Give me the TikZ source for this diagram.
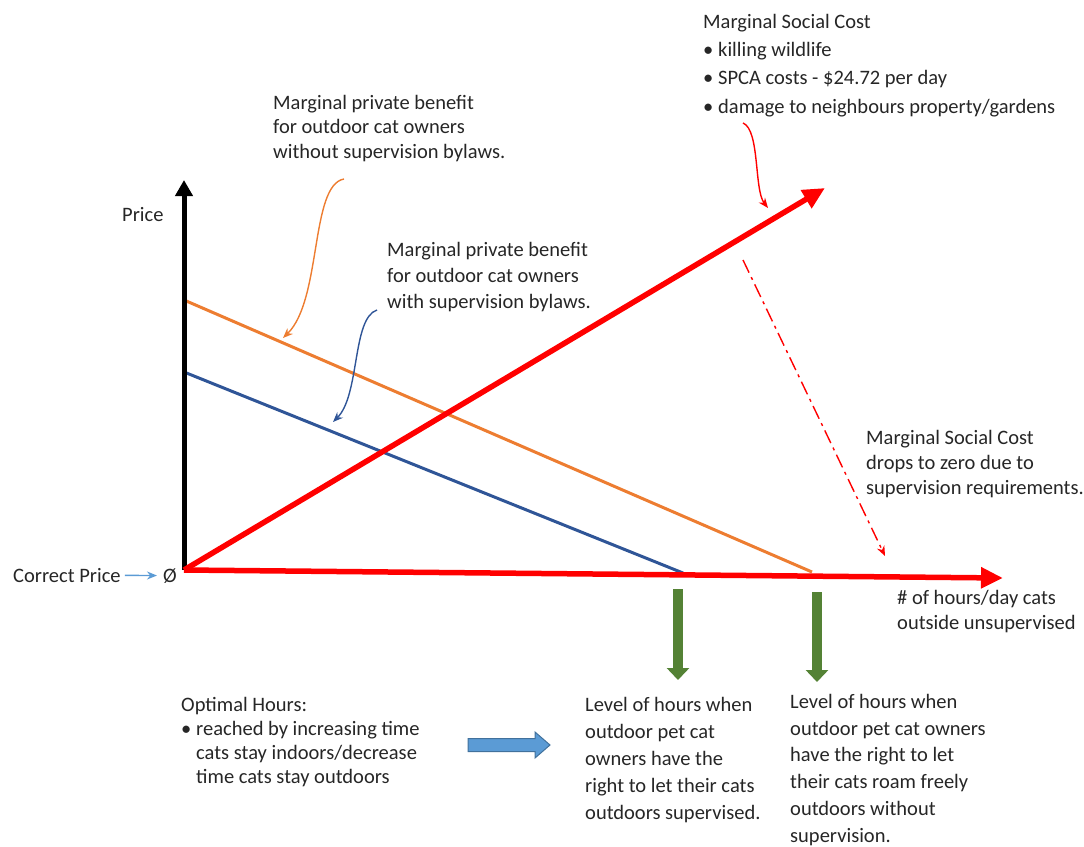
\documentclass[tikz,border=0pt]{standalone}
\usepackage{fontspec}
\setmainfont{Carlito}
\usetikzlibrary{arrows.meta}

\definecolor{mscRed}{RGB}{255,0,0}
\definecolor{mpbOrange}{RGB}{237,125,49}
\definecolor{mpbBlue}{RGB}{47,85,151}
\definecolor{lvlGreen}{RGB}{84,130,53}
\definecolor{hintBlue}{RGB}{91,155,213}
\definecolor{hintEdge}{RGB}{65,113,156}
\definecolor{txtGray}{RGB}{38,38,38}

% base west of a multi-line node = baseline of its last line
\tikzstyle{tS}=[inner sep=0pt, anchor=base west, align=left, text=txtGray, font=\fontsize{20.5}{26}\selectfont]
\tikzstyle{yaxS}=[line width=5pt, black, -{Triangle[length=16pt,width=17pt]}]
\tikzstyle{redS}=[line width=5.5pt, mscRed, -{Triangle[length=22pt,width=20pt]}]
\tikzstyle{orS}=[line width=3pt, mpbOrange]
\tikzstyle{blS}=[line width=3pt, mpbBlue]
\tikzstyle{thinArr}=[line width=1.4pt, -{Stealth[length=10pt,width=8pt]}]
\tikzstyle{grS}=[line width=10pt, lvlGreen, -{Triangle[length=12pt,width=22pt]}]

\begin{document}
\begin{tikzpicture}[x=1pt,y=-1pt]
                \useasboundingbox (0,0) rectangle (1084,846);
                % curve ends
                \coordinate (o) at (184,570);
                \coordinate (yTop) at (184,180);
                \coordinate (xEnd) at (1003,578);
                \coordinate (mscEnd) at (825,188);
                \coordinate (orA) at (184,300);
                \coordinate (orB) at (812,572);
                \coordinate (blA) at (184,372);
                \coordinate (blB) at (683,573);
                \draw[orS] (orA) -- (orB);
                \draw[blS] (blA) -- (blB);
                \draw[yaxS] (o) -- (yTop);
                \draw[redS] (o) -- (xEnd);
                \draw[redS] (o) -- (mscEnd);

                % labels
                \draw (122,221) node[tS] (price) {Price};
                \draw (13,582) node[tS] (cp) {Correct Price};
                \draw (163,582) node[tS] (zero) {Ø};
                \draw (897,629) node[tS, font=\fontsize{20.5}{25}\selectfont] (hrs) {\# of hours/day cats\\outside unsupervised};
                \draw (273,158) node[tS, font=\fontsize{20.5}{24.5}\selectfont] (mpbOut) {Marginal private benefit\\for outdoor cat owners\\without supervision bylaws.};
                \draw (387,308) node[tS] (mpbSup) {Marginal private benefit\\for outdoor cat owners\\with supervision bylaws.};
                \draw (703,113) node[tS, font=\fontsize{20.5}{28.3}\selectfont] (msc) {Marginal Social Cost\\
                    \makebox[15pt][l]{\textbullet}killing wildlife\\
                    \makebox[15pt][l]{\textbullet}SPCA costs - \$24.72 per day\\
                    \makebox[15pt][l]{\textbullet}damage to neighbours property/gardens};
                \draw (866,494) node[tS, font=\fontsize{20.5}{25}\selectfont] (mscZero) {Marginal Social Cost\\drops to zero due to\\supervision requirements.};
                \draw (181,783) node[tS, font=\fontsize{20.5}{24}\selectfont] (opt) {Optimal Hours:\\
                    \makebox[15pt][l]{\textbullet}reached by increasing time\\
                    \hspace*{15pt}cats stay indoors/decrease\\
                    \hspace*{15pt}time cats stay outdoors};
                \draw (585,819) node[tS, font=\fontsize{20.5}{27}\selectfont] (lvlSup) {Level of hours when\\outdoor pet cat\\owners have the\\right to let their cats\\outdoors supervised.};
                \draw (790,842) node[tS, font=\fontsize{20.5}{26.7}\selectfont] (lvlFree) {Level of hours when\\outdoor pet cat owners\\have the right to let\\their cats roam freely\\outdoors without\\supervision.};

                % pointers
                \coordinate (orTail) at (344,179);
                \coordinate (orHead) at (283,338);
                \coordinate (blTail) at (377,310);
                \coordinate (blHead) at (333,422);
                \coordinate (rdTail) at (743,123);
                \coordinate (rdHead) at (768,208);
                \coordinate (ddTail) at (743,260);
                \coordinate (ddHead) at (885,556);
                \draw[thinArr, mpbOrange] (orTail) .. controls (310,185) and (322,300) .. (orHead);
                \draw[thinArr, mpbBlue] (blTail) .. controls (352,318) and (360,395) .. (blHead);
                \draw[thinArr, mscRed] (rdTail) .. controls (760,130) and (754,190) .. (rdHead);
                \draw[thinArr, mscRed, dash pattern=on 14pt off 5pt on 3pt off 5pt] (ddTail) -- (ddHead);
                \path (cp) edge[thinArr, hintBlue, shorten <=4pt, shorten >=6pt] (zero);

                % green level arrows
                \coordinate (gA) at (678,589);
                \coordinate (gB) at (678,680);
                \coordinate (gC) at (817,592);
                \coordinate (gD) at (817,682);
                \draw[grS] (gA) -- (gB);
                \draw[grS] (gC) -- (gD);

                % block arrow
                \coordinate (blk) at (468,745);
                \draw[draw=hintEdge, fill=hintBlue, line width=1pt] (blk) ++(0,-6.5) -- ++(67,0) -- ++(0,-6.5)
                    -- ++(15,13) -- ++(-15,13) -- ++(0,-6.5) -- ++(-67,0) -- cycle;
\end{tikzpicture}
\end{document}
